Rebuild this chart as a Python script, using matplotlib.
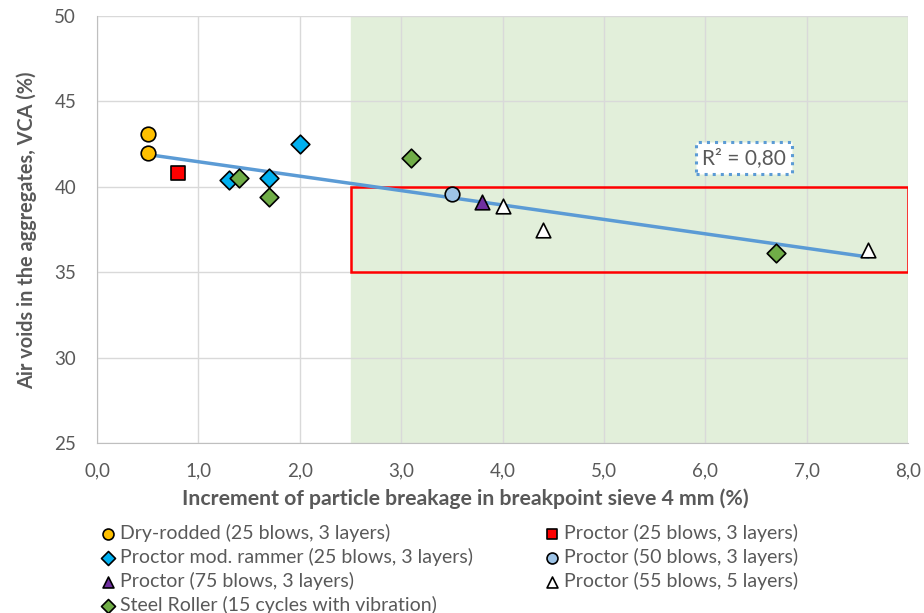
import matplotlib
matplotlib.use("Agg")
import matplotlib.pyplot as plt
import matplotlib.patches as mpatches
import matplotlib.ticker as mticker
import numpy as np

plt.rcParams["font.family"] = ["Lato", "DejaVu Sans"]

# Data
dry_x = [0.5, 0.5]
dry_y = [43.1, 42.0]
p25_x = [0.8]
p25_y = [40.8]
mod_x = [1.3, 1.7, 2.0]
mod_y = [40.4, 40.5, 42.5]
p50_x = [3.5]
p50_y = [39.6]
p75_x = [3.8]
p75_y = [39.1]
p55_x = [4.0, 4.4, 7.6]
p55_y = [38.9, 37.5, 36.3]
roller_x = [1.4, 1.7, 3.1, 6.7]
roller_y = [40.5, 39.4, 41.7, 36.1]

series = [
    ("Dry-rodded (25 blows, 3 layers)", dry_x, dry_y, "o", "#ffc000"),
    ("Proctor mod. rammer (25 blows, 3 layers)", mod_x, mod_y, "D", "#00b0f0"),
    ("Proctor (75 blows, 3 layers)", p75_x, p75_y, "^", "#7030a0"),
    ("Steel Roller (15 cycles with vibration)", roller_x, roller_y, "D", "#70ad47"),
    ("Proctor (25 blows, 3 layers)", p25_x, p25_y, "s", "#ff0000"),
    ("Proctor (50 blows, 3 layers)", p50_x, p50_y, "o", "#9dc3e6"),
    ("Proctor (55 blows, 5 layers)", p55_x, p55_y, "^", "#ffffff"),
]

grey = "#595959"
fig = plt.figure(figsize=(9.24, 6.13), dpi=100)
ax = fig.add_axes([0.105, 0.277, 0.878, 0.697])

# shaded zone and highlight box
ax.axvspan(2.5, 8.0, color="#e2efda", zorder=0)
ax.add_patch(mpatches.Rectangle((2.5, 35), 5.5, 5, fill=False,
                                edgecolor="#ff0000", linewidth=1.8, zorder=3))

handles = []
for label, xs, ys, marker, color in series:
    size = 9.5 if marker == "D" else 10.5
    h = ax.scatter(xs, ys, marker=marker, s=size ** 2, c=color,
                   edgecolors="black", linewidths=1.2, zorder=5, label=label)
    handles.append(h)

# linear trend over all points
all_x = np.concatenate([s[1] for s in series])
all_y = np.concatenate([s[2] for s in series])
k, b = np.polyfit(all_x, all_y, 1)
tx = np.array([all_x.min(), all_x.max()])
ax.plot(tx, k * tx + b, color="#5b9bd5", linewidth=2.5, zorder=4)

ax.text(6.38, 41.7, "R² = 0,80", fontsize=15, color=grey, ha="center", va="center",
        zorder=6, bbox=dict(boxstyle="square,pad=0.3", facecolor="white",
                            edgecolor="#5b9bd5", linestyle=":", linewidth=2.2))

ax.set_xlim(0, 8)
ax.set_ylim(25, 50)
ax.xaxis.set_major_locator(mticker.MultipleLocator(1))
ax.yaxis.set_major_locator(mticker.MultipleLocator(5))
ax.xaxis.set_major_formatter(mticker.FuncFormatter(lambda v, p: f"{v:.1f}".replace(".", ",")))
ax.grid(True, color="#d9d9d9", linewidth=1, zorder=1)
ax.set_axisbelow(True)
for side in ["top", "right"]:
    ax.spines[side].set_visible(False)
for side in ["left", "bottom"]:
    ax.spines[side].set_color("#bfbfbf")
ax.tick_params(axis="x", length=0, labelsize=13.5, colors=grey, pad=14)
ax.tick_params(axis="y", length=0, labelsize=13.5, colors=grey, pad=15)

ax.set_xlabel("Increment of particle breakage in breakpoint sieve 4 mm (%)",
              fontsize=15.3, fontweight="bold", color=grey, va="center", ha="center")
ax.set_ylabel("Air voids in the aggregates, VCA (%)",
              fontsize=14.3, fontweight="bold", color=grey, va="center", ha="center")
ax.xaxis.set_label_coords(0.454, -0.131)
ax.yaxis.set_label_coords(-0.0863, 0.499)

# legend: two columns placed separately
legend_kw = dict(loc="upper left", frameon=False, fontsize=14, labelcolor=grey,
                 handletextpad=0.25, labelspacing=0.3, handlelength=0.8,
                 markerscale=0.75, borderpad=0.0, borderaxespad=0.0)
fig.legend(handles=handles[:4], bbox_to_anchor=(100 / 924, 0.145), **legend_kw)
fig.legend(handles=handles[4:], bbox_to_anchor=(544 / 924, 0.145), **legend_kw)

fig.savefig("out.png", dpi=100)
